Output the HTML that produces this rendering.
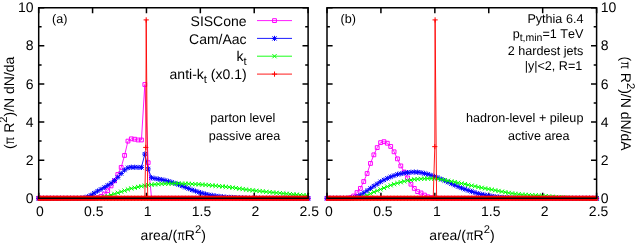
<!DOCTYPE html>
<html><head><meta charset="utf-8"><title>plot</title>
<style>html,body{margin:0;padding:0;background:#fff;}body{width:637px;height:243px;overflow:hidden;position:relative;font-family:"Liberation Sans",sans-serif;}</style>
</head><body>
<svg width="637" height="243" viewBox="0 0 637 243" style="display:block;position:absolute;left:0;top:0;will-change:transform;font-kerning:none" text-rendering="geometricPrecision" font-kerning="none" font-family="'Liberation Sans', sans-serif" fill="#000">
<rect width="637" height="243" fill="#fff"/>
<path d="M38.7 198.3h5.6M308.1 198.3h-5.6M38.7 179.24h2.9M308.1 179.24h-2.9M38.7 160.18h5.6M308.1 160.18h-5.6M38.7 141.12h2.9M308.1 141.12h-2.9M38.7 122.06h5.6M308.1 122.06h-5.6M38.7 103h2.9M308.1 103h-2.9M38.7 83.94h5.6M308.1 83.94h-5.6M38.7 64.88h2.9M308.1 64.88h-2.9M38.7 45.82h5.6M308.1 45.82h-5.6M38.7 26.76h2.9M308.1 26.76h-2.9M38.7 7.7h5.6M308.1 7.7h-5.6M38.7 198.3v-5.6M38.7 7.7v5.6M92.58 198.3v-5.6M92.58 7.7v5.6M146.46 198.3v-5.6M146.46 7.7v5.6M200.34 198.3v-5.6M200.34 7.7v5.6M254.22 198.3v-5.6M254.22 7.7v5.6M308.1 198.3v-5.6M308.1 7.7v5.6" fill="none" stroke="#000" stroke-width="1.5"/>
<path d="M327 198.3h5.6M596.6 198.3h-5.6M327 179.24h2.9M596.6 179.24h-2.9M327 160.18h5.6M596.6 160.18h-5.6M327 141.12h2.9M596.6 141.12h-2.9M327 122.06h5.6M596.6 122.06h-5.6M327 103h2.9M596.6 103h-2.9M327 83.94h5.6M596.6 83.94h-5.6M327 64.88h2.9M596.6 64.88h-2.9M327 45.82h5.6M596.6 45.82h-5.6M327 26.76h2.9M596.6 26.76h-2.9M327 7.7h5.6M596.6 7.7h-5.6M327 198.3v-5.6M327 7.7v5.6M380.92 198.3v-5.6M380.92 7.7v5.6M434.84 198.3v-5.6M434.84 7.7v5.6M488.76 198.3v-5.6M488.76 7.7v5.6M542.68 198.3v-5.6M542.68 7.7v5.6M596.6 198.3v-5.6M596.6 7.7v5.6" fill="none" stroke="#000" stroke-width="1.5"/>
<path d="M38.7 198.3 L40.19 198.3 L43.56 198.3 L46.94 198.3 L50.31 198.3 L53.69 198.3 L57.06 198.3 L60.44 198.3 L63.81 198.3 L67.19 198.3 L70.56 198.3 L73.94 198.3 L77.31 198.3 L80.69 198.3 L84.06 198.3 L87.44 198.3 L90.81 198.3 L94.19 198.3 L97.56 197.73 L100.94 196.39 L104.31 194.11 L107.69 190.68 L111.06 185.91 L114.44 180.76 L117.81 174.48 L121.19 167.42 L124.56 155.42 L127.94 141.12 L131.31 138.83 L134.69 139.21 L138.06 139.98 L141.44 139.98 L144.81 84.51 L148.19 162.66 L151.56 198.3 L154.94 198.3 L158.31 198.3 L161.69 198.3 L165.06 198.3 L168.44 198.3 L171.81 198.3 L175.19 198.3 L178.56 198.3 L181.94 198.3 L185.31 198.3 L188.69 198.3 L192.06 198.3 L195.44 198.3 L198.81 198.3 L202.19 198.3 L205.56 198.3 L208.94 198.3 L212.31 198.3 L215.69 198.3 L219.06 198.3 L222.44 198.3 L225.81 198.3 L229.19 198.3 L232.56 198.3 L235.94 198.3 L239.31 198.3 L242.69 198.3 L246.06 198.3 L249.44 198.3 L252.81 198.3 L256.19 198.3 L259.56 198.3 L262.94 198.3 L266.31 198.3 L269.69 198.3 L273.06 198.3 L276.44 198.3 L279.81 198.3 L283.19 198.3 L286.56 198.3 L289.94 198.3 L293.31 198.3 L296.69 198.3 L300.06 198.3 L303.44 198.3 L306.81 198.3 L308.1 198.3" fill="none" stroke="#ff00ff" stroke-width="0.9" stroke-linejoin="round"/><path d="M36.8 196.4h3.8v3.8h-3.8zM38.29 196.4h3.8v3.8h-3.8zM41.66 196.4h3.8v3.8h-3.8zM45.04 196.4h3.8v3.8h-3.8zM48.41 196.4h3.8v3.8h-3.8zM51.79 196.4h3.8v3.8h-3.8zM55.16 196.4h3.8v3.8h-3.8zM58.54 196.4h3.8v3.8h-3.8zM61.91 196.4h3.8v3.8h-3.8zM65.29 196.4h3.8v3.8h-3.8zM68.66 196.4h3.8v3.8h-3.8zM72.04 196.4h3.8v3.8h-3.8zM75.41 196.4h3.8v3.8h-3.8zM78.79 196.4h3.8v3.8h-3.8zM82.16 196.4h3.8v3.8h-3.8zM85.54 196.4h3.8v3.8h-3.8zM88.91 196.4h3.8v3.8h-3.8zM92.29 196.4h3.8v3.8h-3.8zM95.66 195.83h3.8v3.8h-3.8zM99.04 194.49h3.8v3.8h-3.8zM102.41 192.21h3.8v3.8h-3.8zM105.79 188.78h3.8v3.8h-3.8zM109.16 184.01h3.8v3.8h-3.8zM112.54 178.86h3.8v3.8h-3.8zM115.91 172.58h3.8v3.8h-3.8zM119.29 165.52h3.8v3.8h-3.8zM122.66 153.52h3.8v3.8h-3.8zM126.04 139.22h3.8v3.8h-3.8zM129.41 136.93h3.8v3.8h-3.8zM132.79 137.31h3.8v3.8h-3.8zM136.16 138.08h3.8v3.8h-3.8zM139.54 138.08h3.8v3.8h-3.8zM142.91 82.61h3.8v3.8h-3.8zM146.29 160.76h3.8v3.8h-3.8zM149.66 196.4h3.8v3.8h-3.8zM153.04 196.4h3.8v3.8h-3.8zM156.41 196.4h3.8v3.8h-3.8zM159.79 196.4h3.8v3.8h-3.8zM163.16 196.4h3.8v3.8h-3.8zM166.54 196.4h3.8v3.8h-3.8zM169.91 196.4h3.8v3.8h-3.8zM173.29 196.4h3.8v3.8h-3.8zM176.66 196.4h3.8v3.8h-3.8zM180.04 196.4h3.8v3.8h-3.8zM183.41 196.4h3.8v3.8h-3.8zM186.79 196.4h3.8v3.8h-3.8zM190.16 196.4h3.8v3.8h-3.8zM193.54 196.4h3.8v3.8h-3.8zM196.91 196.4h3.8v3.8h-3.8zM200.29 196.4h3.8v3.8h-3.8zM203.66 196.4h3.8v3.8h-3.8zM207.04 196.4h3.8v3.8h-3.8zM210.41 196.4h3.8v3.8h-3.8zM213.79 196.4h3.8v3.8h-3.8zM217.16 196.4h3.8v3.8h-3.8zM220.54 196.4h3.8v3.8h-3.8zM223.91 196.4h3.8v3.8h-3.8zM227.29 196.4h3.8v3.8h-3.8zM230.66 196.4h3.8v3.8h-3.8zM234.04 196.4h3.8v3.8h-3.8zM237.41 196.4h3.8v3.8h-3.8zM240.79 196.4h3.8v3.8h-3.8zM244.16 196.4h3.8v3.8h-3.8zM247.54 196.4h3.8v3.8h-3.8zM250.91 196.4h3.8v3.8h-3.8zM254.29 196.4h3.8v3.8h-3.8zM257.66 196.4h3.8v3.8h-3.8zM261.04 196.4h3.8v3.8h-3.8zM264.41 196.4h3.8v3.8h-3.8zM267.79 196.4h3.8v3.8h-3.8zM271.16 196.4h3.8v3.8h-3.8zM274.54 196.4h3.8v3.8h-3.8zM277.91 196.4h3.8v3.8h-3.8zM281.29 196.4h3.8v3.8h-3.8zM284.66 196.4h3.8v3.8h-3.8zM288.04 196.4h3.8v3.8h-3.8zM291.41 196.4h3.8v3.8h-3.8zM294.79 196.4h3.8v3.8h-3.8zM298.16 196.4h3.8v3.8h-3.8zM301.54 196.4h3.8v3.8h-3.8zM304.91 196.4h3.8v3.8h-3.8zM306.2 196.4h3.8v3.8h-3.8z" fill="none" stroke="#ff00ff" stroke-width="1.0"/>
<path d="M38.7 198.3 L40.19 198.3 L43.56 198.3 L46.94 198.3 L50.31 198.3 L53.69 198.3 L57.06 198.3 L60.44 198.3 L63.81 198.3 L67.19 198.3 L70.56 198.3 L73.94 198.3 L77.31 198.3 L80.69 198.3 L84.06 197.73 L87.44 196.78 L90.81 195.25 L94.19 193.15 L97.56 191.06 L100.94 189.34 L104.31 187.44 L107.69 185.34 L111.06 183.24 L114.44 180.57 L117.81 177.33 L121.19 173.52 L124.56 170.09 L127.94 167.8 L131.31 167.23 L134.69 167.23 L138.06 167.42 L141.44 167.42 L144.81 154.08 L148.19 168.95 L151.56 177.72 L154.94 178.48 L158.31 179.05 L161.69 179.62 L165.06 180.38 L168.44 181.34 L171.81 182.29 L175.19 183.43 L178.56 184.58 L181.94 185.91 L185.31 187.25 L188.69 188.58 L192.06 189.91 L195.44 191.06 L198.81 192.2 L202.19 193.15 L205.56 194.11 L208.94 194.87 L212.31 195.44 L215.69 196.01 L219.06 196.39 L222.44 196.78 L225.81 197.16 L229.19 197.35 L232.56 197.54 L235.94 197.73 L239.31 197.92 L242.69 197.92 L246.06 198.11 L249.44 198.3 L252.81 198.3 L256.19 198.3 L259.56 198.3 L262.94 198.3 L266.31 198.3 L269.69 198.3 L273.06 198.3 L276.44 198.3 L279.81 198.3 L283.19 198.3 L286.56 198.3 L289.94 198.3 L293.31 198.3 L296.69 198.3 L300.06 198.3 L303.44 198.3 L306.81 198.3 L308.1 198.3" fill="none" stroke="#0000ff" stroke-width="0.9" stroke-linejoin="round"/><path d="M36.1 198.3h5.2M38.7 195.7v5.2M36.6 196.2l4.2 4.2M36.6 200.4l4.2 -4.2M37.59 198.3h5.2M40.19 195.7v5.2M38.09 196.2l4.2 4.2M38.09 200.4l4.2 -4.2M40.96 198.3h5.2M43.56 195.7v5.2M41.46 196.2l4.2 4.2M41.46 200.4l4.2 -4.2M44.34 198.3h5.2M46.94 195.7v5.2M44.84 196.2l4.2 4.2M44.84 200.4l4.2 -4.2M47.71 198.3h5.2M50.31 195.7v5.2M48.21 196.2l4.2 4.2M48.21 200.4l4.2 -4.2M51.09 198.3h5.2M53.69 195.7v5.2M51.59 196.2l4.2 4.2M51.59 200.4l4.2 -4.2M54.46 198.3h5.2M57.06 195.7v5.2M54.96 196.2l4.2 4.2M54.96 200.4l4.2 -4.2M57.84 198.3h5.2M60.44 195.7v5.2M58.34 196.2l4.2 4.2M58.34 200.4l4.2 -4.2M61.21 198.3h5.2M63.81 195.7v5.2M61.71 196.2l4.2 4.2M61.71 200.4l4.2 -4.2M64.59 198.3h5.2M67.19 195.7v5.2M65.09 196.2l4.2 4.2M65.09 200.4l4.2 -4.2M67.96 198.3h5.2M70.56 195.7v5.2M68.46 196.2l4.2 4.2M68.46 200.4l4.2 -4.2M71.34 198.3h5.2M73.94 195.7v5.2M71.84 196.2l4.2 4.2M71.84 200.4l4.2 -4.2M74.71 198.3h5.2M77.31 195.7v5.2M75.21 196.2l4.2 4.2M75.21 200.4l4.2 -4.2M78.09 198.3h5.2M80.69 195.7v5.2M78.59 196.2l4.2 4.2M78.59 200.4l4.2 -4.2M81.46 197.73h5.2M84.06 195.13v5.2M81.96 195.63l4.2 4.2M81.96 199.83l4.2 -4.2M84.84 196.78h5.2M87.44 194.18v5.2M85.34 194.68l4.2 4.2M85.34 198.88l4.2 -4.2M88.21 195.25h5.2M90.81 192.65v5.2M88.71 193.15l4.2 4.2M88.71 197.35l4.2 -4.2M91.59 193.15h5.2M94.19 190.55v5.2M92.09 191.05l4.2 4.2M92.09 195.25l4.2 -4.2M94.96 191.06h5.2M97.56 188.46v5.2M95.46 188.96l4.2 4.2M95.46 193.16l4.2 -4.2M98.34 189.34h5.2M100.94 186.74v5.2M98.84 187.24l4.2 4.2M98.84 191.44l4.2 -4.2M101.71 187.44h5.2M104.31 184.84v5.2M102.21 185.34l4.2 4.2M102.21 189.54l4.2 -4.2M105.09 185.34h5.2M107.69 182.74v5.2M105.59 183.24l4.2 4.2M105.59 187.44l4.2 -4.2M108.46 183.24h5.2M111.06 180.64v5.2M108.96 181.14l4.2 4.2M108.96 185.34l4.2 -4.2M111.84 180.57h5.2M114.44 177.97v5.2M112.34 178.47l4.2 4.2M112.34 182.67l4.2 -4.2M115.21 177.33h5.2M117.81 174.73v5.2M115.71 175.23l4.2 4.2M115.71 179.43l4.2 -4.2M118.59 173.52h5.2M121.19 170.92v5.2M119.09 171.42l4.2 4.2M119.09 175.62l4.2 -4.2M121.96 170.09h5.2M124.56 167.49v5.2M122.46 167.99l4.2 4.2M122.46 172.19l4.2 -4.2M125.34 167.8h5.2M127.94 165.2v5.2M125.84 165.7l4.2 4.2M125.84 169.9l4.2 -4.2M128.71 167.23h5.2M131.31 164.63v5.2M129.21 165.13l4.2 4.2M129.21 169.33l4.2 -4.2M132.09 167.23h5.2M134.69 164.63v5.2M132.59 165.13l4.2 4.2M132.59 169.33l4.2 -4.2M135.46 167.42h5.2M138.06 164.82v5.2M135.96 165.32l4.2 4.2M135.96 169.52l4.2 -4.2M138.84 167.42h5.2M141.44 164.82v5.2M139.34 165.32l4.2 4.2M139.34 169.52l4.2 -4.2M142.21 154.08h5.2M144.81 151.48v5.2M142.71 151.98l4.2 4.2M142.71 156.18l4.2 -4.2M145.59 168.95h5.2M148.19 166.35v5.2M146.09 166.85l4.2 4.2M146.09 171.05l4.2 -4.2M148.96 177.72h5.2M151.56 175.12v5.2M149.46 175.62l4.2 4.2M149.46 179.82l4.2 -4.2M152.34 178.48h5.2M154.94 175.88v5.2M152.84 176.38l4.2 4.2M152.84 180.58l4.2 -4.2M155.71 179.05h5.2M158.31 176.45v5.2M156.21 176.95l4.2 4.2M156.21 181.15l4.2 -4.2M159.09 179.62h5.2M161.69 177.02v5.2M159.59 177.52l4.2 4.2M159.59 181.72l4.2 -4.2M162.46 180.38h5.2M165.06 177.78v5.2M162.96 178.28l4.2 4.2M162.96 182.48l4.2 -4.2M165.84 181.34h5.2M168.44 178.74v5.2M166.34 179.24l4.2 4.2M166.34 183.44l4.2 -4.2M169.21 182.29h5.2M171.81 179.69v5.2M169.71 180.19l4.2 4.2M169.71 184.39l4.2 -4.2M172.59 183.43h5.2M175.19 180.83v5.2M173.09 181.33l4.2 4.2M173.09 185.53l4.2 -4.2M175.96 184.58h5.2M178.56 181.98v5.2M176.46 182.48l4.2 4.2M176.46 186.68l4.2 -4.2M179.34 185.91h5.2M181.94 183.31v5.2M179.84 183.81l4.2 4.2M179.84 188.01l4.2 -4.2M182.71 187.25h5.2M185.31 184.65v5.2M183.21 185.15l4.2 4.2M183.21 189.35l4.2 -4.2M186.09 188.58h5.2M188.69 185.98v5.2M186.59 186.48l4.2 4.2M186.59 190.68l4.2 -4.2M189.46 189.91h5.2M192.06 187.31v5.2M189.96 187.81l4.2 4.2M189.96 192.01l4.2 -4.2M192.84 191.06h5.2M195.44 188.46v5.2M193.34 188.96l4.2 4.2M193.34 193.16l4.2 -4.2M196.21 192.2h5.2M198.81 189.6v5.2M196.71 190.1l4.2 4.2M196.71 194.3l4.2 -4.2M199.59 193.15h5.2M202.19 190.55v5.2M200.09 191.05l4.2 4.2M200.09 195.25l4.2 -4.2M202.96 194.11h5.2M205.56 191.51v5.2M203.46 192.01l4.2 4.2M203.46 196.21l4.2 -4.2M206.34 194.87h5.2M208.94 192.27v5.2M206.84 192.77l4.2 4.2M206.84 196.97l4.2 -4.2M209.71 195.44h5.2M212.31 192.84v5.2M210.21 193.34l4.2 4.2M210.21 197.54l4.2 -4.2M213.09 196.01h5.2M215.69 193.41v5.2M213.59 193.91l4.2 4.2M213.59 198.11l4.2 -4.2M216.46 196.39h5.2M219.06 193.79v5.2M216.96 194.29l4.2 4.2M216.96 198.49l4.2 -4.2M219.84 196.78h5.2M222.44 194.18v5.2M220.34 194.68l4.2 4.2M220.34 198.88l4.2 -4.2M223.21 197.16h5.2M225.81 194.56v5.2M223.71 195.06l4.2 4.2M223.71 199.26l4.2 -4.2M226.59 197.35h5.2M229.19 194.75v5.2M227.09 195.25l4.2 4.2M227.09 199.45l4.2 -4.2M229.96 197.54h5.2M232.56 194.94v5.2M230.46 195.44l4.2 4.2M230.46 199.64l4.2 -4.2M233.34 197.73h5.2M235.94 195.13v5.2M233.84 195.63l4.2 4.2M233.84 199.83l4.2 -4.2M236.71 197.92h5.2M239.31 195.32v5.2M237.21 195.82l4.2 4.2M237.21 200.02l4.2 -4.2M240.09 197.92h5.2M242.69 195.32v5.2M240.59 195.82l4.2 4.2M240.59 200.02l4.2 -4.2M243.46 198.11h5.2M246.06 195.51v5.2M243.96 196.01l4.2 4.2M243.96 200.21l4.2 -4.2M246.84 198.3h5.2M249.44 195.7v5.2M247.34 196.2l4.2 4.2M247.34 200.4l4.2 -4.2M250.21 198.3h5.2M252.81 195.7v5.2M250.71 196.2l4.2 4.2M250.71 200.4l4.2 -4.2M253.59 198.3h5.2M256.19 195.7v5.2M254.09 196.2l4.2 4.2M254.09 200.4l4.2 -4.2M256.96 198.3h5.2M259.56 195.7v5.2M257.46 196.2l4.2 4.2M257.46 200.4l4.2 -4.2M260.34 198.3h5.2M262.94 195.7v5.2M260.84 196.2l4.2 4.2M260.84 200.4l4.2 -4.2M263.71 198.3h5.2M266.31 195.7v5.2M264.21 196.2l4.2 4.2M264.21 200.4l4.2 -4.2M267.09 198.3h5.2M269.69 195.7v5.2M267.59 196.2l4.2 4.2M267.59 200.4l4.2 -4.2M270.46 198.3h5.2M273.06 195.7v5.2M270.96 196.2l4.2 4.2M270.96 200.4l4.2 -4.2M273.84 198.3h5.2M276.44 195.7v5.2M274.34 196.2l4.2 4.2M274.34 200.4l4.2 -4.2M277.21 198.3h5.2M279.81 195.7v5.2M277.71 196.2l4.2 4.2M277.71 200.4l4.2 -4.2M280.59 198.3h5.2M283.19 195.7v5.2M281.09 196.2l4.2 4.2M281.09 200.4l4.2 -4.2M283.96 198.3h5.2M286.56 195.7v5.2M284.46 196.2l4.2 4.2M284.46 200.4l4.2 -4.2M287.34 198.3h5.2M289.94 195.7v5.2M287.84 196.2l4.2 4.2M287.84 200.4l4.2 -4.2M290.71 198.3h5.2M293.31 195.7v5.2M291.21 196.2l4.2 4.2M291.21 200.4l4.2 -4.2M294.09 198.3h5.2M296.69 195.7v5.2M294.59 196.2l4.2 4.2M294.59 200.4l4.2 -4.2M297.46 198.3h5.2M300.06 195.7v5.2M297.96 196.2l4.2 4.2M297.96 200.4l4.2 -4.2M300.84 198.3h5.2M303.44 195.7v5.2M301.34 196.2l4.2 4.2M301.34 200.4l4.2 -4.2M304.21 198.3h5.2M306.81 195.7v5.2M304.71 196.2l4.2 4.2M304.71 200.4l4.2 -4.2M305.5 198.3h5.2M308.1 195.7v5.2M306 196.2l4.2 4.2M306 200.4l4.2 -4.2" fill="none" stroke="#0000ff" stroke-width="1.0"/>
<path d="M40.19 198.3 L43.56 198.3 L46.94 198.3 L50.31 198.3 L53.69 198.3 L57.06 198.3 L60.44 198.3 L63.81 198.3 L67.19 198.3 L70.56 198.3 L73.94 198.3 L77.31 198.3 L80.69 198.3 L84.06 198.3 L87.44 198.3 L90.81 198.3 L94.19 198.3 L97.56 198.01 L100.94 197.55 L104.31 196.91 L107.69 196.16 L111.06 195.04 L114.44 193.91 L117.81 192.81 L121.19 191.7 L124.56 190.58 L127.94 189.46 L131.31 188.47 L134.69 187.7 L138.06 186.93 L141.44 186.24 L144.81 185.66 L148.19 185.08 L151.56 184.64 L154.94 184.38 L158.31 184.11 L161.69 183.84 L165.06 183.72 L168.44 183.63 L171.81 183.53 L175.19 183.44 L178.56 183.54 L181.94 183.64 L185.31 183.74 L188.69 183.85 L192.06 184.01 L195.44 184.17 L198.81 184.33 L202.19 184.58 L205.56 184.88 L208.94 185.18 L212.31 185.48 L215.69 185.79 L219.06 186.13 L222.44 186.48 L225.81 186.82 L229.19 187.16 L232.56 187.61 L235.94 188.09 L239.31 188.58 L242.69 189.06 L246.06 189.54 L249.44 190.02 L252.81 190.4 L256.19 190.75 L259.56 191.11 L262.94 191.46 L266.31 191.81 L269.69 192.17 L273.06 192.49 L276.44 192.81 L279.81 193.14 L283.19 193.46 L286.56 193.78 L289.94 194.1 L293.31 194.39 L296.69 194.67 L300.06 194.96 L303.44 195.25 L306.81 195.53" fill="none" stroke="#00ff00" stroke-width="0.9" stroke-linejoin="round"/><path d="M38.09 196.2l4.2 4.2M38.09 200.4l4.2 -4.2M41.46 196.2l4.2 4.2M41.46 200.4l4.2 -4.2M44.84 196.2l4.2 4.2M44.84 200.4l4.2 -4.2M48.21 196.2l4.2 4.2M48.21 200.4l4.2 -4.2M51.59 196.2l4.2 4.2M51.59 200.4l4.2 -4.2M54.96 196.2l4.2 4.2M54.96 200.4l4.2 -4.2M58.34 196.2l4.2 4.2M58.34 200.4l4.2 -4.2M61.71 196.2l4.2 4.2M61.71 200.4l4.2 -4.2M65.09 196.2l4.2 4.2M65.09 200.4l4.2 -4.2M68.46 196.2l4.2 4.2M68.46 200.4l4.2 -4.2M71.84 196.2l4.2 4.2M71.84 200.4l4.2 -4.2M75.21 196.2l4.2 4.2M75.21 200.4l4.2 -4.2M78.59 196.2l4.2 4.2M78.59 200.4l4.2 -4.2M81.96 196.2l4.2 4.2M81.96 200.4l4.2 -4.2M85.34 196.2l4.2 4.2M85.34 200.4l4.2 -4.2M88.71 196.2l4.2 4.2M88.71 200.4l4.2 -4.2M92.09 196.2l4.2 4.2M92.09 200.4l4.2 -4.2M95.46 195.91l4.2 4.2M95.46 200.11l4.2 -4.2M98.84 195.45l4.2 4.2M98.84 199.65l4.2 -4.2M102.21 194.81l4.2 4.2M102.21 199.01l4.2 -4.2M105.59 194.06l4.2 4.2M105.59 198.26l4.2 -4.2M108.96 192.94l4.2 4.2M108.96 197.14l4.2 -4.2M112.34 191.81l4.2 4.2M112.34 196.01l4.2 -4.2M115.71 190.71l4.2 4.2M115.71 194.91l4.2 -4.2M119.09 189.6l4.2 4.2M119.09 193.8l4.2 -4.2M122.46 188.48l4.2 4.2M122.46 192.68l4.2 -4.2M125.84 187.36l4.2 4.2M125.84 191.56l4.2 -4.2M129.21 186.37l4.2 4.2M129.21 190.57l4.2 -4.2M132.59 185.6l4.2 4.2M132.59 189.8l4.2 -4.2M135.96 184.83l4.2 4.2M135.96 189.03l4.2 -4.2M139.34 184.14l4.2 4.2M139.34 188.34l4.2 -4.2M142.71 183.56l4.2 4.2M142.71 187.76l4.2 -4.2M146.09 182.98l4.2 4.2M146.09 187.18l4.2 -4.2M149.46 182.54l4.2 4.2M149.46 186.74l4.2 -4.2M152.84 182.28l4.2 4.2M152.84 186.48l4.2 -4.2M156.21 182.01l4.2 4.2M156.21 186.21l4.2 -4.2M159.59 181.74l4.2 4.2M159.59 185.94l4.2 -4.2M162.96 181.62l4.2 4.2M162.96 185.82l4.2 -4.2M166.34 181.53l4.2 4.2M166.34 185.73l4.2 -4.2M169.71 181.43l4.2 4.2M169.71 185.63l4.2 -4.2M173.09 181.34l4.2 4.2M173.09 185.54l4.2 -4.2M176.46 181.44l4.2 4.2M176.46 185.64l4.2 -4.2M179.84 181.54l4.2 4.2M179.84 185.74l4.2 -4.2M183.21 181.64l4.2 4.2M183.21 185.84l4.2 -4.2M186.59 181.75l4.2 4.2M186.59 185.95l4.2 -4.2M189.96 181.91l4.2 4.2M189.96 186.11l4.2 -4.2M193.34 182.07l4.2 4.2M193.34 186.27l4.2 -4.2M196.71 182.23l4.2 4.2M196.71 186.43l4.2 -4.2M200.09 182.48l4.2 4.2M200.09 186.68l4.2 -4.2M203.46 182.78l4.2 4.2M203.46 186.98l4.2 -4.2M206.84 183.08l4.2 4.2M206.84 187.28l4.2 -4.2M210.21 183.38l4.2 4.2M210.21 187.58l4.2 -4.2M213.59 183.69l4.2 4.2M213.59 187.89l4.2 -4.2M216.96 184.03l4.2 4.2M216.96 188.23l4.2 -4.2M220.34 184.38l4.2 4.2M220.34 188.58l4.2 -4.2M223.71 184.72l4.2 4.2M223.71 188.92l4.2 -4.2M227.09 185.06l4.2 4.2M227.09 189.26l4.2 -4.2M230.46 185.51l4.2 4.2M230.46 189.71l4.2 -4.2M233.84 185.99l4.2 4.2M233.84 190.19l4.2 -4.2M237.21 186.48l4.2 4.2M237.21 190.68l4.2 -4.2M240.59 186.96l4.2 4.2M240.59 191.16l4.2 -4.2M243.96 187.44l4.2 4.2M243.96 191.64l4.2 -4.2M247.34 187.92l4.2 4.2M247.34 192.12l4.2 -4.2M250.71 188.3l4.2 4.2M250.71 192.5l4.2 -4.2M254.09 188.65l4.2 4.2M254.09 192.85l4.2 -4.2M257.46 189.01l4.2 4.2M257.46 193.21l4.2 -4.2M260.84 189.36l4.2 4.2M260.84 193.56l4.2 -4.2M264.21 189.71l4.2 4.2M264.21 193.91l4.2 -4.2M267.59 190.07l4.2 4.2M267.59 194.27l4.2 -4.2M270.96 190.39l4.2 4.2M270.96 194.59l4.2 -4.2M274.34 190.71l4.2 4.2M274.34 194.91l4.2 -4.2M277.71 191.04l4.2 4.2M277.71 195.24l4.2 -4.2M281.09 191.36l4.2 4.2M281.09 195.56l4.2 -4.2M284.46 191.68l4.2 4.2M284.46 195.88l4.2 -4.2M287.84 192l4.2 4.2M287.84 196.2l4.2 -4.2M291.21 192.29l4.2 4.2M291.21 196.49l4.2 -4.2M294.59 192.57l4.2 4.2M294.59 196.77l4.2 -4.2M297.96 192.86l4.2 4.2M297.96 197.06l4.2 -4.2M301.34 193.15l4.2 4.2M301.34 197.35l4.2 -4.2M304.71 193.43l4.2 4.2M304.71 197.63l4.2 -4.2" fill="none" stroke="#00ff00" stroke-width="1.0"/>
<path d="M40.19 198.3 L43.56 198.3 L46.94 198.3 L50.31 198.3 L53.69 198.3 L57.06 198.3 L60.44 198.3 L63.81 198.3 L67.19 198.3 L70.56 198.3 L73.94 198.3 L77.31 198.3 L80.69 198.3 L84.06 198.3 L87.44 198.3 L90.81 198.3 L94.19 198.3 L97.56 198.3 L100.94 198.3 L104.31 198.3 L107.69 198.3 L111.06 198.3 L114.44 198.3 L117.81 198.3 L121.19 198.3 L124.56 198.3 L127.94 198.3 L131.31 198.3 L134.69 198.3 L138.06 198.3 L141.44 198.3 L144.8 198.3 L145.8 147.41 L146.2 19.9 L147.7 198.3 L151.56 198.3 L154.94 198.3 L158.31 198.3 L161.69 198.3 L165.06 198.3 L168.44 198.3 L171.81 198.3 L175.19 198.3 L178.56 198.3 L181.94 198.3 L185.31 198.3 L188.69 198.3 L192.06 198.3 L195.44 198.3 L198.81 198.3 L202.19 198.3 L205.56 198.3 L208.94 198.3 L212.31 198.3 L215.69 198.3 L219.06 198.3 L222.44 198.3 L225.81 198.3 L229.19 198.3 L232.56 198.3 L235.94 198.3 L239.31 198.3 L242.69 198.3 L246.06 198.3 L249.44 198.3 L252.81 198.3 L256.19 198.3 L259.56 198.3 L262.94 198.3 L266.31 198.3 L269.69 198.3 L273.06 198.3 L276.44 198.3 L279.81 198.3 L283.19 198.3 L286.56 198.3 L289.94 198.3 L293.31 198.3 L296.69 198.3 L300.06 198.3 L303.44 198.3 L306.81 198.3" fill="none" stroke="#ff0000" stroke-width="0.9" stroke-linejoin="round"/><path d="M37.59 198.3h5.2M40.19 195.7v5.2M40.96 198.3h5.2M43.56 195.7v5.2M44.34 198.3h5.2M46.94 195.7v5.2M47.71 198.3h5.2M50.31 195.7v5.2M51.09 198.3h5.2M53.69 195.7v5.2M54.46 198.3h5.2M57.06 195.7v5.2M57.84 198.3h5.2M60.44 195.7v5.2M61.21 198.3h5.2M63.81 195.7v5.2M64.59 198.3h5.2M67.19 195.7v5.2M67.96 198.3h5.2M70.56 195.7v5.2M71.34 198.3h5.2M73.94 195.7v5.2M74.71 198.3h5.2M77.31 195.7v5.2M78.09 198.3h5.2M80.69 195.7v5.2M81.46 198.3h5.2M84.06 195.7v5.2M84.84 198.3h5.2M87.44 195.7v5.2M88.21 198.3h5.2M90.81 195.7v5.2M91.59 198.3h5.2M94.19 195.7v5.2M94.96 198.3h5.2M97.56 195.7v5.2M98.34 198.3h5.2M100.94 195.7v5.2M101.71 198.3h5.2M104.31 195.7v5.2M105.09 198.3h5.2M107.69 195.7v5.2M108.46 198.3h5.2M111.06 195.7v5.2M111.84 198.3h5.2M114.44 195.7v5.2M115.21 198.3h5.2M117.81 195.7v5.2M118.59 198.3h5.2M121.19 195.7v5.2M121.96 198.3h5.2M124.56 195.7v5.2M125.34 198.3h5.2M127.94 195.7v5.2M128.71 198.3h5.2M131.31 195.7v5.2M132.09 198.3h5.2M134.69 195.7v5.2M135.46 198.3h5.2M138.06 195.7v5.2M138.84 198.3h5.2M141.44 195.7v5.2M142.2 198.3h5.2M144.8 195.7v5.2M143.2 147.41h5.2M145.8 144.81v5.2M143.6 19.9h5.2M146.2 17.3v5.2M145.1 198.3h5.2M147.7 195.7v5.2M148.96 198.3h5.2M151.56 195.7v5.2M152.34 198.3h5.2M154.94 195.7v5.2M155.71 198.3h5.2M158.31 195.7v5.2M159.09 198.3h5.2M161.69 195.7v5.2M162.46 198.3h5.2M165.06 195.7v5.2M165.84 198.3h5.2M168.44 195.7v5.2M169.21 198.3h5.2M171.81 195.7v5.2M172.59 198.3h5.2M175.19 195.7v5.2M175.96 198.3h5.2M178.56 195.7v5.2M179.34 198.3h5.2M181.94 195.7v5.2M182.71 198.3h5.2M185.31 195.7v5.2M186.09 198.3h5.2M188.69 195.7v5.2M189.46 198.3h5.2M192.06 195.7v5.2M192.84 198.3h5.2M195.44 195.7v5.2M196.21 198.3h5.2M198.81 195.7v5.2M199.59 198.3h5.2M202.19 195.7v5.2M202.96 198.3h5.2M205.56 195.7v5.2M206.34 198.3h5.2M208.94 195.7v5.2M209.71 198.3h5.2M212.31 195.7v5.2M213.09 198.3h5.2M215.69 195.7v5.2M216.46 198.3h5.2M219.06 195.7v5.2M219.84 198.3h5.2M222.44 195.7v5.2M223.21 198.3h5.2M225.81 195.7v5.2M226.59 198.3h5.2M229.19 195.7v5.2M229.96 198.3h5.2M232.56 195.7v5.2M233.34 198.3h5.2M235.94 195.7v5.2M236.71 198.3h5.2M239.31 195.7v5.2M240.09 198.3h5.2M242.69 195.7v5.2M243.46 198.3h5.2M246.06 195.7v5.2M246.84 198.3h5.2M249.44 195.7v5.2M250.21 198.3h5.2M252.81 195.7v5.2M253.59 198.3h5.2M256.19 195.7v5.2M256.96 198.3h5.2M259.56 195.7v5.2M260.34 198.3h5.2M262.94 195.7v5.2M263.71 198.3h5.2M266.31 195.7v5.2M267.09 198.3h5.2M269.69 195.7v5.2M270.46 198.3h5.2M273.06 195.7v5.2M273.84 198.3h5.2M276.44 195.7v5.2M277.21 198.3h5.2M279.81 195.7v5.2M280.59 198.3h5.2M283.19 195.7v5.2M283.96 198.3h5.2M286.56 195.7v5.2M287.34 198.3h5.2M289.94 195.7v5.2M290.71 198.3h5.2M293.31 195.7v5.2M294.09 198.3h5.2M296.69 195.7v5.2M297.46 198.3h5.2M300.06 195.7v5.2M300.84 198.3h5.2M303.44 195.7v5.2M304.21 198.3h5.2M306.81 195.7v5.2" fill="none" stroke="#ff0000" stroke-width="1.0"/>
<path d="M327 198.3 L330.04 198.3 L333.41 198.3 L336.78 198.3 L340.15 198.3 L343.52 198.3 L346.89 198.3 L350.26 197.73 L353.63 196.01 L357 192.58 L360.37 188.39 L363.74 181.53 L367.11 173.52 L370.48 163.42 L373.85 154.84 L377.22 147.6 L380.59 142.64 L383.96 141.69 L387.33 143.22 L390.7 146.46 L394.07 151.79 L397.44 158.85 L400.81 165.9 L404.18 172 L407.55 177.91 L410.92 184.2 L414.29 188.39 L417.66 191.63 L421.03 192.96 L424.4 195.06 L427.77 196.78 L431.14 197.73 L434.51 198.3 L437.88 198.3 L441.25 198.3 L444.62 198.3 L447.99 198.3 L451.36 198.3 L454.73 198.3 L458.1 198.3 L461.47 198.3 L464.84 198.3 L468.21 198.3 L471.58 198.3 L474.95 198.3 L478.32 198.3 L481.69 198.3 L485.06 198.3 L488.43 198.3 L491.8 198.3 L495.17 198.3 L498.54 198.3 L501.91 198.3 L505.28 198.3 L508.65 198.3 L512.02 198.3 L515.39 198.3 L518.76 198.3 L522.13 198.3 L525.5 198.3 L528.87 198.3 L532.24 198.3 L535.61 198.3 L538.98 198.3 L542.35 198.3 L545.72 198.3 L549.09 198.3 L552.46 198.3 L555.83 198.3 L559.2 198.3 L562.57 198.3 L565.94 198.3 L569.31 198.3 L572.68 198.3 L576.05 198.3 L579.42 198.3 L582.79 198.3 L586.16 198.3 L589.53 198.3 L592.9 198.3 L596.27 198.3 L596.6 198.3" fill="none" stroke="#ff00ff" stroke-width="0.9" stroke-linejoin="round"/><path d="M325.1 196.4h3.8v3.8h-3.8zM328.14 196.4h3.8v3.8h-3.8zM331.51 196.4h3.8v3.8h-3.8zM334.88 196.4h3.8v3.8h-3.8zM338.25 196.4h3.8v3.8h-3.8zM341.62 196.4h3.8v3.8h-3.8zM344.99 196.4h3.8v3.8h-3.8zM348.36 195.83h3.8v3.8h-3.8zM351.73 194.11h3.8v3.8h-3.8zM355.1 190.68h3.8v3.8h-3.8zM358.47 186.49h3.8v3.8h-3.8zM361.84 179.63h3.8v3.8h-3.8zM365.21 171.62h3.8v3.8h-3.8zM368.58 161.52h3.8v3.8h-3.8zM371.95 152.94h3.8v3.8h-3.8zM375.32 145.7h3.8v3.8h-3.8zM378.69 140.74h3.8v3.8h-3.8zM382.06 139.79h3.8v3.8h-3.8zM385.43 141.32h3.8v3.8h-3.8zM388.8 144.56h3.8v3.8h-3.8zM392.17 149.89h3.8v3.8h-3.8zM395.54 156.95h3.8v3.8h-3.8zM398.91 164h3.8v3.8h-3.8zM402.28 170.1h3.8v3.8h-3.8zM405.65 176.01h3.8v3.8h-3.8zM409.02 182.3h3.8v3.8h-3.8zM412.39 186.49h3.8v3.8h-3.8zM415.76 189.73h3.8v3.8h-3.8zM419.13 191.06h3.8v3.8h-3.8zM422.5 193.16h3.8v3.8h-3.8zM425.87 194.88h3.8v3.8h-3.8zM429.24 195.83h3.8v3.8h-3.8zM432.61 196.4h3.8v3.8h-3.8zM435.98 196.4h3.8v3.8h-3.8zM439.35 196.4h3.8v3.8h-3.8zM442.72 196.4h3.8v3.8h-3.8zM446.09 196.4h3.8v3.8h-3.8zM449.46 196.4h3.8v3.8h-3.8zM452.83 196.4h3.8v3.8h-3.8zM456.2 196.4h3.8v3.8h-3.8zM459.57 196.4h3.8v3.8h-3.8zM462.94 196.4h3.8v3.8h-3.8zM466.31 196.4h3.8v3.8h-3.8zM469.68 196.4h3.8v3.8h-3.8zM473.05 196.4h3.8v3.8h-3.8zM476.42 196.4h3.8v3.8h-3.8zM479.79 196.4h3.8v3.8h-3.8zM483.16 196.4h3.8v3.8h-3.8zM486.53 196.4h3.8v3.8h-3.8zM489.9 196.4h3.8v3.8h-3.8zM493.27 196.4h3.8v3.8h-3.8zM496.64 196.4h3.8v3.8h-3.8zM500.01 196.4h3.8v3.8h-3.8zM503.38 196.4h3.8v3.8h-3.8zM506.75 196.4h3.8v3.8h-3.8zM510.12 196.4h3.8v3.8h-3.8zM513.49 196.4h3.8v3.8h-3.8zM516.86 196.4h3.8v3.8h-3.8zM520.23 196.4h3.8v3.8h-3.8zM523.6 196.4h3.8v3.8h-3.8zM526.97 196.4h3.8v3.8h-3.8zM530.34 196.4h3.8v3.8h-3.8zM533.71 196.4h3.8v3.8h-3.8zM537.08 196.4h3.8v3.8h-3.8zM540.45 196.4h3.8v3.8h-3.8zM543.82 196.4h3.8v3.8h-3.8zM547.19 196.4h3.8v3.8h-3.8zM550.56 196.4h3.8v3.8h-3.8zM553.93 196.4h3.8v3.8h-3.8zM557.3 196.4h3.8v3.8h-3.8zM560.67 196.4h3.8v3.8h-3.8zM564.04 196.4h3.8v3.8h-3.8zM567.41 196.4h3.8v3.8h-3.8zM570.78 196.4h3.8v3.8h-3.8zM574.15 196.4h3.8v3.8h-3.8zM577.52 196.4h3.8v3.8h-3.8zM580.89 196.4h3.8v3.8h-3.8zM584.26 196.4h3.8v3.8h-3.8zM587.63 196.4h3.8v3.8h-3.8zM591 196.4h3.8v3.8h-3.8zM594.37 196.4h3.8v3.8h-3.8zM594.7 196.4h3.8v3.8h-3.8z" fill="none" stroke="#ff00ff" stroke-width="1.0"/>
<path d="M327 198.3 L330.04 198.3 L333.41 198.3 L336.78 198.3 L340.15 198.3 L343.52 198.3 L346.89 198.3 L350.26 198.27 L353.63 197.73 L357 196.7 L360.37 194.98 L363.74 192.96 L367.11 190.71 L370.48 188.36 L373.85 186.06 L377.22 183.9 L380.59 181.73 L383.96 179.99 L387.33 178.34 L390.7 176.85 L394.07 175.6 L397.44 174.34 L400.81 173.69 L404.18 173.06 L407.55 172.6 L410.92 172.28 L414.29 172.02 L417.66 172.23 L421.03 172.62 L424.4 173.43 L427.77 174.23 L431.14 175.35 L434.51 176.49 L437.88 177.71 L441.25 179.16 L444.62 180.6 L447.99 182.13 L451.36 183.65 L454.73 185.13 L458.1 186.6 L461.47 187.97 L464.84 189.19 L468.21 190.41 L471.58 191.54 L474.95 192.57 L478.32 193.59 L481.69 194.43 L485.06 195.07 L488.43 195.71 L491.8 196.25 L495.17 196.7 L498.54 197.15 L501.91 197.46 L505.28 197.65 L508.65 197.84 L512.02 198 L515.39 198.12 L518.76 198.25 L522.13 198.3 L525.5 198.3 L528.87 198.3 L532.24 198.3 L535.61 198.3 L538.98 198.3 L542.35 198.3 L545.72 198.3 L549.09 198.3 L552.46 198.3 L555.83 198.3 L559.2 198.3 L562.57 198.3 L565.94 198.3 L569.31 198.3 L572.68 198.3 L576.05 198.3 L579.42 198.3 L582.79 198.3 L586.16 198.3 L589.53 198.3 L592.9 198.3 L596.27 198.3 L596.6 198.3" fill="none" stroke="#0000ff" stroke-width="0.9" stroke-linejoin="round"/><path d="M324.4 198.3h5.2M327 195.7v5.2M324.9 196.2l4.2 4.2M324.9 200.4l4.2 -4.2M327.44 198.3h5.2M330.04 195.7v5.2M327.94 196.2l4.2 4.2M327.94 200.4l4.2 -4.2M330.81 198.3h5.2M333.41 195.7v5.2M331.31 196.2l4.2 4.2M331.31 200.4l4.2 -4.2M334.18 198.3h5.2M336.78 195.7v5.2M334.68 196.2l4.2 4.2M334.68 200.4l4.2 -4.2M337.55 198.3h5.2M340.15 195.7v5.2M338.05 196.2l4.2 4.2M338.05 200.4l4.2 -4.2M340.92 198.3h5.2M343.52 195.7v5.2M341.42 196.2l4.2 4.2M341.42 200.4l4.2 -4.2M344.29 198.3h5.2M346.89 195.7v5.2M344.79 196.2l4.2 4.2M344.79 200.4l4.2 -4.2M347.66 198.27h5.2M350.26 195.67v5.2M348.16 196.17l4.2 4.2M348.16 200.37l4.2 -4.2M351.03 197.73h5.2M353.63 195.13v5.2M351.53 195.63l4.2 4.2M351.53 199.83l4.2 -4.2M354.4 196.7h5.2M357 194.1v5.2M354.9 194.6l4.2 4.2M354.9 198.8l4.2 -4.2M357.77 194.98h5.2M360.37 192.38v5.2M358.27 192.88l4.2 4.2M358.27 197.08l4.2 -4.2M361.14 192.96h5.2M363.74 190.36v5.2M361.64 190.86l4.2 4.2M361.64 195.06l4.2 -4.2M364.51 190.71h5.2M367.11 188.11v5.2M365.01 188.61l4.2 4.2M365.01 192.81l4.2 -4.2M367.88 188.36h5.2M370.48 185.76v5.2M368.38 186.26l4.2 4.2M368.38 190.46l4.2 -4.2M371.25 186.06h5.2M373.85 183.46v5.2M371.75 183.96l4.2 4.2M371.75 188.16l4.2 -4.2M374.62 183.9h5.2M377.22 181.3v5.2M375.12 181.8l4.2 4.2M375.12 186l4.2 -4.2M377.99 181.73h5.2M380.59 179.13v5.2M378.49 179.63l4.2 4.2M378.49 183.83l4.2 -4.2M381.36 179.99h5.2M383.96 177.39v5.2M381.86 177.89l4.2 4.2M381.86 182.09l4.2 -4.2M384.73 178.34h5.2M387.33 175.74v5.2M385.23 176.24l4.2 4.2M385.23 180.44l4.2 -4.2M388.1 176.85h5.2M390.7 174.25v5.2M388.6 174.75l4.2 4.2M388.6 178.95l4.2 -4.2M391.47 175.6h5.2M394.07 173v5.2M391.97 173.5l4.2 4.2M391.97 177.7l4.2 -4.2M394.84 174.34h5.2M397.44 171.74v5.2M395.34 172.24l4.2 4.2M395.34 176.44l4.2 -4.2M398.21 173.69h5.2M400.81 171.09v5.2M398.71 171.59l4.2 4.2M398.71 175.79l4.2 -4.2M401.58 173.06h5.2M404.18 170.46v5.2M402.08 170.96l4.2 4.2M402.08 175.16l4.2 -4.2M404.95 172.6h5.2M407.55 170v5.2M405.45 170.5l4.2 4.2M405.45 174.7l4.2 -4.2M408.32 172.28h5.2M410.92 169.68v5.2M408.82 170.18l4.2 4.2M408.82 174.38l4.2 -4.2M411.69 172.02h5.2M414.29 169.42v5.2M412.19 169.92l4.2 4.2M412.19 174.12l4.2 -4.2M415.06 172.23h5.2M417.66 169.63v5.2M415.56 170.13l4.2 4.2M415.56 174.33l4.2 -4.2M418.43 172.62h5.2M421.03 170.02v5.2M418.93 170.52l4.2 4.2M418.93 174.72l4.2 -4.2M421.8 173.43h5.2M424.4 170.83v5.2M422.3 171.33l4.2 4.2M422.3 175.53l4.2 -4.2M425.17 174.23h5.2M427.77 171.63v5.2M425.67 172.13l4.2 4.2M425.67 176.33l4.2 -4.2M428.54 175.35h5.2M431.14 172.75v5.2M429.04 173.25l4.2 4.2M429.04 177.45l4.2 -4.2M431.91 176.49h5.2M434.51 173.89v5.2M432.41 174.39l4.2 4.2M432.41 178.59l4.2 -4.2M435.28 177.71h5.2M437.88 175.11v5.2M435.78 175.61l4.2 4.2M435.78 179.81l4.2 -4.2M438.65 179.16h5.2M441.25 176.56v5.2M439.15 177.06l4.2 4.2M439.15 181.26l4.2 -4.2M442.02 180.6h5.2M444.62 178v5.2M442.52 178.5l4.2 4.2M442.52 182.7l4.2 -4.2M445.39 182.13h5.2M447.99 179.53v5.2M445.89 180.03l4.2 4.2M445.89 184.23l4.2 -4.2M448.76 183.65h5.2M451.36 181.05v5.2M449.26 181.55l4.2 4.2M449.26 185.75l4.2 -4.2M452.13 185.13h5.2M454.73 182.53v5.2M452.63 183.03l4.2 4.2M452.63 187.23l4.2 -4.2M455.5 186.6h5.2M458.1 184v5.2M456 184.5l4.2 4.2M456 188.7l4.2 -4.2M458.87 187.97h5.2M461.47 185.37v5.2M459.37 185.87l4.2 4.2M459.37 190.07l4.2 -4.2M462.24 189.19h5.2M464.84 186.59v5.2M462.74 187.09l4.2 4.2M462.74 191.29l4.2 -4.2M465.61 190.41h5.2M468.21 187.81v5.2M466.11 188.31l4.2 4.2M466.11 192.51l4.2 -4.2M468.98 191.54h5.2M471.58 188.94v5.2M469.48 189.44l4.2 4.2M469.48 193.64l4.2 -4.2M472.35 192.57h5.2M474.95 189.97v5.2M472.85 190.47l4.2 4.2M472.85 194.67l4.2 -4.2M475.72 193.59h5.2M478.32 190.99v5.2M476.22 191.49l4.2 4.2M476.22 195.69l4.2 -4.2M479.09 194.43h5.2M481.69 191.83v5.2M479.59 192.33l4.2 4.2M479.59 196.53l4.2 -4.2M482.46 195.07h5.2M485.06 192.47v5.2M482.96 192.97l4.2 4.2M482.96 197.17l4.2 -4.2M485.83 195.71h5.2M488.43 193.11v5.2M486.33 193.61l4.2 4.2M486.33 197.81l4.2 -4.2M489.2 196.25h5.2M491.8 193.65v5.2M489.7 194.15l4.2 4.2M489.7 198.35l4.2 -4.2M492.57 196.7h5.2M495.17 194.1v5.2M493.07 194.6l4.2 4.2M493.07 198.8l4.2 -4.2M495.94 197.15h5.2M498.54 194.55v5.2M496.44 195.05l4.2 4.2M496.44 199.25l4.2 -4.2M499.31 197.46h5.2M501.91 194.86v5.2M499.81 195.36l4.2 4.2M499.81 199.56l4.2 -4.2M502.68 197.65h5.2M505.28 195.05v5.2M503.18 195.55l4.2 4.2M503.18 199.75l4.2 -4.2M506.05 197.84h5.2M508.65 195.24v5.2M506.55 195.74l4.2 4.2M506.55 199.94l4.2 -4.2M509.42 198h5.2M512.02 195.4v5.2M509.92 195.9l4.2 4.2M509.92 200.1l4.2 -4.2M512.79 198.12h5.2M515.39 195.52v5.2M513.29 196.02l4.2 4.2M513.29 200.22l4.2 -4.2M516.16 198.25h5.2M518.76 195.65v5.2M516.66 196.15l4.2 4.2M516.66 200.35l4.2 -4.2M519.53 198.3h5.2M522.13 195.7v5.2M520.03 196.2l4.2 4.2M520.03 200.4l4.2 -4.2M522.9 198.3h5.2M525.5 195.7v5.2M523.4 196.2l4.2 4.2M523.4 200.4l4.2 -4.2M526.27 198.3h5.2M528.87 195.7v5.2M526.77 196.2l4.2 4.2M526.77 200.4l4.2 -4.2M529.64 198.3h5.2M532.24 195.7v5.2M530.14 196.2l4.2 4.2M530.14 200.4l4.2 -4.2M533.01 198.3h5.2M535.61 195.7v5.2M533.51 196.2l4.2 4.2M533.51 200.4l4.2 -4.2M536.38 198.3h5.2M538.98 195.7v5.2M536.88 196.2l4.2 4.2M536.88 200.4l4.2 -4.2M539.75 198.3h5.2M542.35 195.7v5.2M540.25 196.2l4.2 4.2M540.25 200.4l4.2 -4.2M543.12 198.3h5.2M545.72 195.7v5.2M543.62 196.2l4.2 4.2M543.62 200.4l4.2 -4.2M546.49 198.3h5.2M549.09 195.7v5.2M546.99 196.2l4.2 4.2M546.99 200.4l4.2 -4.2M549.86 198.3h5.2M552.46 195.7v5.2M550.36 196.2l4.2 4.2M550.36 200.4l4.2 -4.2M553.23 198.3h5.2M555.83 195.7v5.2M553.73 196.2l4.2 4.2M553.73 200.4l4.2 -4.2M556.6 198.3h5.2M559.2 195.7v5.2M557.1 196.2l4.2 4.2M557.1 200.4l4.2 -4.2M559.97 198.3h5.2M562.57 195.7v5.2M560.47 196.2l4.2 4.2M560.47 200.4l4.2 -4.2M563.34 198.3h5.2M565.94 195.7v5.2M563.84 196.2l4.2 4.2M563.84 200.4l4.2 -4.2M566.71 198.3h5.2M569.31 195.7v5.2M567.21 196.2l4.2 4.2M567.21 200.4l4.2 -4.2M570.08 198.3h5.2M572.68 195.7v5.2M570.58 196.2l4.2 4.2M570.58 200.4l4.2 -4.2M573.45 198.3h5.2M576.05 195.7v5.2M573.95 196.2l4.2 4.2M573.95 200.4l4.2 -4.2M576.82 198.3h5.2M579.42 195.7v5.2M577.32 196.2l4.2 4.2M577.32 200.4l4.2 -4.2M580.19 198.3h5.2M582.79 195.7v5.2M580.69 196.2l4.2 4.2M580.69 200.4l4.2 -4.2M583.56 198.3h5.2M586.16 195.7v5.2M584.06 196.2l4.2 4.2M584.06 200.4l4.2 -4.2M586.93 198.3h5.2M589.53 195.7v5.2M587.43 196.2l4.2 4.2M587.43 200.4l4.2 -4.2M590.3 198.3h5.2M592.9 195.7v5.2M590.8 196.2l4.2 4.2M590.8 200.4l4.2 -4.2M593.67 198.3h5.2M596.27 195.7v5.2M594.17 196.2l4.2 4.2M594.17 200.4l4.2 -4.2M594 198.3h5.2M596.6 195.7v5.2M594.5 196.2l4.2 4.2M594.5 200.4l4.2 -4.2" fill="none" stroke="#0000ff" stroke-width="1.0"/>
<path d="M330.04 198.3 L333.41 198.3 L336.78 198.3 L340.15 198.3 L343.52 198.3 L346.89 198.3 L350.26 198.3 L353.63 198.3 L357 198.07 L360.37 197.62 L363.74 196.66 L367.11 195.43 L370.48 193.66 L373.85 192.02 L377.22 190.7 L380.59 189.39 L383.96 188 L387.33 186.59 L390.7 185.3 L394.07 184.2 L397.44 183.1 L400.81 182.23 L404.18 181.37 L407.55 180.63 L410.92 180.01 L414.29 179.41 L417.66 179.09 L421.03 178.81 L424.4 178.65 L427.77 178.49 L431.14 178.54 L434.51 178.62 L437.88 178.84 L441.25 179.48 L444.62 180.12 L447.99 180.76 L451.36 181.42 L454.73 182.11 L458.1 182.79 L461.47 183.48 L464.84 184.16 L468.21 184.89 L471.58 185.62 L474.95 186.34 L478.32 187.07 L481.69 187.76 L485.06 188.4 L488.43 189.04 L491.8 189.68 L495.17 190.33 L498.54 190.97 L501.91 191.61 L505.28 192.25 L508.65 192.9 L512.02 193.42 L515.39 193.87 L518.76 194.32 L522.13 194.61 L525.5 194.8 L528.87 195 L532.24 195.19 L535.61 195.38 L538.98 195.57 L542.35 195.84 L545.72 196.14 L549.09 196.44 L552.46 196.74 L555.83 197.02 L559.2 197.23 L562.57 197.45 L565.94 197.66 L569.31 197.87 L572.68 198.02 L576.05 198.15 L579.42 198.28 L582.79 198.3 L586.16 198.3 L589.53 198.3 L592.9 198.3 L596.27 198.3" fill="none" stroke="#00ff00" stroke-width="0.9" stroke-linejoin="round"/><path d="M327.94 196.2l4.2 4.2M327.94 200.4l4.2 -4.2M331.31 196.2l4.2 4.2M331.31 200.4l4.2 -4.2M334.68 196.2l4.2 4.2M334.68 200.4l4.2 -4.2M338.05 196.2l4.2 4.2M338.05 200.4l4.2 -4.2M341.42 196.2l4.2 4.2M341.42 200.4l4.2 -4.2M344.79 196.2l4.2 4.2M344.79 200.4l4.2 -4.2M348.16 196.2l4.2 4.2M348.16 200.4l4.2 -4.2M351.53 196.2l4.2 4.2M351.53 200.4l4.2 -4.2M354.9 195.97l4.2 4.2M354.9 200.17l4.2 -4.2M358.27 195.52l4.2 4.2M358.27 199.72l4.2 -4.2M361.64 194.56l4.2 4.2M361.64 198.76l4.2 -4.2M365.01 193.33l4.2 4.2M365.01 197.53l4.2 -4.2M368.38 191.56l4.2 4.2M368.38 195.76l4.2 -4.2M371.75 189.92l4.2 4.2M371.75 194.12l4.2 -4.2M375.12 188.6l4.2 4.2M375.12 192.8l4.2 -4.2M378.49 187.29l4.2 4.2M378.49 191.49l4.2 -4.2M381.86 185.9l4.2 4.2M381.86 190.1l4.2 -4.2M385.23 184.49l4.2 4.2M385.23 188.69l4.2 -4.2M388.6 183.2l4.2 4.2M388.6 187.4l4.2 -4.2M391.97 182.1l4.2 4.2M391.97 186.3l4.2 -4.2M395.34 181l4.2 4.2M395.34 185.2l4.2 -4.2M398.71 180.13l4.2 4.2M398.71 184.33l4.2 -4.2M402.08 179.27l4.2 4.2M402.08 183.47l4.2 -4.2M405.45 178.53l4.2 4.2M405.45 182.73l4.2 -4.2M408.82 177.91l4.2 4.2M408.82 182.11l4.2 -4.2M412.19 177.31l4.2 4.2M412.19 181.51l4.2 -4.2M415.56 176.99l4.2 4.2M415.56 181.19l4.2 -4.2M418.93 176.71l4.2 4.2M418.93 180.91l4.2 -4.2M422.3 176.55l4.2 4.2M422.3 180.75l4.2 -4.2M425.67 176.39l4.2 4.2M425.67 180.59l4.2 -4.2M429.04 176.44l4.2 4.2M429.04 180.64l4.2 -4.2M432.41 176.52l4.2 4.2M432.41 180.72l4.2 -4.2M435.78 176.74l4.2 4.2M435.78 180.94l4.2 -4.2M439.15 177.38l4.2 4.2M439.15 181.58l4.2 -4.2M442.52 178.02l4.2 4.2M442.52 182.22l4.2 -4.2M445.89 178.66l4.2 4.2M445.89 182.86l4.2 -4.2M449.26 179.32l4.2 4.2M449.26 183.52l4.2 -4.2M452.63 180.01l4.2 4.2M452.63 184.21l4.2 -4.2M456 180.69l4.2 4.2M456 184.89l4.2 -4.2M459.37 181.38l4.2 4.2M459.37 185.58l4.2 -4.2M462.74 182.06l4.2 4.2M462.74 186.26l4.2 -4.2M466.11 182.79l4.2 4.2M466.11 186.99l4.2 -4.2M469.48 183.52l4.2 4.2M469.48 187.72l4.2 -4.2M472.85 184.24l4.2 4.2M472.85 188.44l4.2 -4.2M476.22 184.97l4.2 4.2M476.22 189.17l4.2 -4.2M479.59 185.66l4.2 4.2M479.59 189.86l4.2 -4.2M482.96 186.3l4.2 4.2M482.96 190.5l4.2 -4.2M486.33 186.94l4.2 4.2M486.33 191.14l4.2 -4.2M489.7 187.58l4.2 4.2M489.7 191.78l4.2 -4.2M493.07 188.23l4.2 4.2M493.07 192.43l4.2 -4.2M496.44 188.87l4.2 4.2M496.44 193.07l4.2 -4.2M499.81 189.51l4.2 4.2M499.81 193.71l4.2 -4.2M503.18 190.15l4.2 4.2M503.18 194.35l4.2 -4.2M506.55 190.8l4.2 4.2M506.55 195l4.2 -4.2M509.92 191.32l4.2 4.2M509.92 195.52l4.2 -4.2M513.29 191.77l4.2 4.2M513.29 195.97l4.2 -4.2M516.66 192.22l4.2 4.2M516.66 196.42l4.2 -4.2M520.03 192.51l4.2 4.2M520.03 196.71l4.2 -4.2M523.4 192.7l4.2 4.2M523.4 196.9l4.2 -4.2M526.77 192.9l4.2 4.2M526.77 197.1l4.2 -4.2M530.14 193.09l4.2 4.2M530.14 197.29l4.2 -4.2M533.51 193.28l4.2 4.2M533.51 197.48l4.2 -4.2M536.88 193.47l4.2 4.2M536.88 197.67l4.2 -4.2M540.25 193.74l4.2 4.2M540.25 197.94l4.2 -4.2M543.62 194.04l4.2 4.2M543.62 198.24l4.2 -4.2M546.99 194.34l4.2 4.2M546.99 198.54l4.2 -4.2M550.36 194.64l4.2 4.2M550.36 198.84l4.2 -4.2M553.73 194.92l4.2 4.2M553.73 199.12l4.2 -4.2M557.1 195.13l4.2 4.2M557.1 199.33l4.2 -4.2M560.47 195.35l4.2 4.2M560.47 199.55l4.2 -4.2M563.84 195.56l4.2 4.2M563.84 199.76l4.2 -4.2M567.21 195.77l4.2 4.2M567.21 199.97l4.2 -4.2M570.58 195.92l4.2 4.2M570.58 200.12l4.2 -4.2M573.95 196.05l4.2 4.2M573.95 200.25l4.2 -4.2M577.32 196.18l4.2 4.2M577.32 200.38l4.2 -4.2M580.69 196.2l4.2 4.2M580.69 200.4l4.2 -4.2M584.06 196.2l4.2 4.2M584.06 200.4l4.2 -4.2M587.43 196.2l4.2 4.2M587.43 200.4l4.2 -4.2M590.8 196.2l4.2 4.2M590.8 200.4l4.2 -4.2M594.17 196.2l4.2 4.2M594.17 200.4l4.2 -4.2" fill="none" stroke="#00ff00" stroke-width="1.0"/>
<path d="M330.04 198.3 L333.41 198.3 L336.78 198.3 L340.15 198.3 L343.52 198.3 L346.89 198.3 L350.26 198.3 L353.63 198.3 L357 198.3 L360.37 198.3 L363.74 198.3 L367.11 198.3 L370.48 198.3 L373.85 198.3 L377.22 198.3 L380.59 198.3 L383.96 198.3 L387.33 198.3 L390.7 198.3 L394.07 198.3 L397.44 198.3 L400.81 198.3 L404.18 198.3 L407.55 198.3 L410.92 198.3 L414.29 198.3 L417.66 198.3 L421.03 198.3 L424.4 198.3 L427.77 198.3 L431.14 198.3 L433.2 198.3 L434.8 146.65 L435.1 19.9 L436.6 198.3 L437.88 198.3 L441.25 198.3 L444.62 198.3 L447.99 198.3 L451.36 198.3 L454.73 198.3 L458.1 198.3 L461.47 198.3 L464.84 198.3 L468.21 198.3 L471.58 198.3 L474.95 198.3 L478.32 198.3 L481.69 198.3 L485.06 198.3 L488.43 198.3 L491.8 198.3 L495.17 198.3 L498.54 198.3 L501.91 198.3 L505.28 198.3 L508.65 198.3 L512.02 198.3 L515.39 198.3 L518.76 198.3 L522.13 198.3 L525.5 198.3 L528.87 198.3 L532.24 198.3 L535.61 198.3 L538.98 198.3 L542.35 198.3 L545.72 198.3 L549.09 198.3 L552.46 198.3 L555.83 198.3 L559.2 198.3 L562.57 198.3 L565.94 198.3 L569.31 198.3 L572.68 198.3 L576.05 198.3 L579.42 198.3 L582.79 198.3 L586.16 198.3 L589.53 198.3 L592.9 198.3 L596.27 198.3" fill="none" stroke="#ff0000" stroke-width="0.9" stroke-linejoin="round"/><path d="M327.44 198.3h5.2M330.04 195.7v5.2M330.81 198.3h5.2M333.41 195.7v5.2M334.18 198.3h5.2M336.78 195.7v5.2M337.55 198.3h5.2M340.15 195.7v5.2M340.92 198.3h5.2M343.52 195.7v5.2M344.29 198.3h5.2M346.89 195.7v5.2M347.66 198.3h5.2M350.26 195.7v5.2M351.03 198.3h5.2M353.63 195.7v5.2M354.4 198.3h5.2M357 195.7v5.2M357.77 198.3h5.2M360.37 195.7v5.2M361.14 198.3h5.2M363.74 195.7v5.2M364.51 198.3h5.2M367.11 195.7v5.2M367.88 198.3h5.2M370.48 195.7v5.2M371.25 198.3h5.2M373.85 195.7v5.2M374.62 198.3h5.2M377.22 195.7v5.2M377.99 198.3h5.2M380.59 195.7v5.2M381.36 198.3h5.2M383.96 195.7v5.2M384.73 198.3h5.2M387.33 195.7v5.2M388.1 198.3h5.2M390.7 195.7v5.2M391.47 198.3h5.2M394.07 195.7v5.2M394.84 198.3h5.2M397.44 195.7v5.2M398.21 198.3h5.2M400.81 195.7v5.2M401.58 198.3h5.2M404.18 195.7v5.2M404.95 198.3h5.2M407.55 195.7v5.2M408.32 198.3h5.2M410.92 195.7v5.2M411.69 198.3h5.2M414.29 195.7v5.2M415.06 198.3h5.2M417.66 195.7v5.2M418.43 198.3h5.2M421.03 195.7v5.2M421.8 198.3h5.2M424.4 195.7v5.2M425.17 198.3h5.2M427.77 195.7v5.2M428.54 198.3h5.2M431.14 195.7v5.2M430.6 198.3h5.2M433.2 195.7v5.2M432.2 146.65h5.2M434.8 144.05v5.2M432.5 19.9h5.2M435.1 17.3v5.2M434 198.3h5.2M436.6 195.7v5.2M435.28 198.3h5.2M437.88 195.7v5.2M438.65 198.3h5.2M441.25 195.7v5.2M442.02 198.3h5.2M444.62 195.7v5.2M445.39 198.3h5.2M447.99 195.7v5.2M448.76 198.3h5.2M451.36 195.7v5.2M452.13 198.3h5.2M454.73 195.7v5.2M455.5 198.3h5.2M458.1 195.7v5.2M458.87 198.3h5.2M461.47 195.7v5.2M462.24 198.3h5.2M464.84 195.7v5.2M465.61 198.3h5.2M468.21 195.7v5.2M468.98 198.3h5.2M471.58 195.7v5.2M472.35 198.3h5.2M474.95 195.7v5.2M475.72 198.3h5.2M478.32 195.7v5.2M479.09 198.3h5.2M481.69 195.7v5.2M482.46 198.3h5.2M485.06 195.7v5.2M485.83 198.3h5.2M488.43 195.7v5.2M489.2 198.3h5.2M491.8 195.7v5.2M492.57 198.3h5.2M495.17 195.7v5.2M495.94 198.3h5.2M498.54 195.7v5.2M499.31 198.3h5.2M501.91 195.7v5.2M502.68 198.3h5.2M505.28 195.7v5.2M506.05 198.3h5.2M508.65 195.7v5.2M509.42 198.3h5.2M512.02 195.7v5.2M512.79 198.3h5.2M515.39 195.7v5.2M516.16 198.3h5.2M518.76 195.7v5.2M519.53 198.3h5.2M522.13 195.7v5.2M522.9 198.3h5.2M525.5 195.7v5.2M526.27 198.3h5.2M528.87 195.7v5.2M529.64 198.3h5.2M532.24 195.7v5.2M533.01 198.3h5.2M535.61 195.7v5.2M536.38 198.3h5.2M538.98 195.7v5.2M539.75 198.3h5.2M542.35 195.7v5.2M543.12 198.3h5.2M545.72 195.7v5.2M546.49 198.3h5.2M549.09 195.7v5.2M549.86 198.3h5.2M552.46 195.7v5.2M553.23 198.3h5.2M555.83 195.7v5.2M556.6 198.3h5.2M559.2 195.7v5.2M559.97 198.3h5.2M562.57 195.7v5.2M563.34 198.3h5.2M565.94 195.7v5.2M566.71 198.3h5.2M569.31 195.7v5.2M570.08 198.3h5.2M572.68 195.7v5.2M573.45 198.3h5.2M576.05 195.7v5.2M576.82 198.3h5.2M579.42 195.7v5.2M580.19 198.3h5.2M582.79 195.7v5.2M583.56 198.3h5.2M586.16 195.7v5.2M586.93 198.3h5.2M589.53 195.7v5.2M590.3 198.3h5.2M592.9 195.7v5.2M593.67 198.3h5.2M596.27 195.7v5.2" fill="none" stroke="#ff0000" stroke-width="1.0"/>
<rect x="37.7" y="195.7" width="271.4" height="5.15" fill="#ff0000"/>
<rect x="326" y="195.7" width="271.6" height="5.15" fill="#ff0000"/>
<path d="M38.7 7.7H308.1V198.3H38.7Z" fill="none" stroke="#000" stroke-width="1.5"/>
<path d="M327 7.7H596.6V198.3H327Z" fill="none" stroke="#000" stroke-width="1.5"/>
<path d="M257 20.6 L292 20.6" fill="none" stroke="#ff00ff" stroke-width="0.9" stroke-linejoin="round"/>
<path d="M272.6 18.7h3.8v3.8h-3.8z" fill="none" stroke="#ff00ff" stroke-width="1.0"/>
<path d="M257 38.4 L292 38.4" fill="none" stroke="#0000ff" stroke-width="0.9" stroke-linejoin="round"/>
<path d="M271.9 38.4h5.2M274.5 35.8v5.2M272.4 36.3l4.2 4.2M272.4 40.5l4.2 -4.2" fill="none" stroke="#0000ff" stroke-width="1.0"/>
<path d="M257 56.2 L292 56.2" fill="none" stroke="#00ff00" stroke-width="0.9" stroke-linejoin="round"/>
<path d="M272.4 54.1l4.2 4.2M272.4 58.3l4.2 -4.2" fill="none" stroke="#00ff00" stroke-width="1.0"/>
<path d="M257 74.1 L292 74.1" fill="none" stroke="#ff0000" stroke-width="0.9" stroke-linejoin="round"/>
<path d="M271.9 74.1h5.2M274.5 71.5v5.2" fill="none" stroke="#ff0000" stroke-width="1.0"/>
<g font-size="14" text-anchor="end">
<text x="246.6" y="26.3">SISCone</text>
<text x="246.6" y="43.9">Cam/Aac</text>
<text x="246.6" y="61.1">k<tspan font-size="11.2" dy="3.7">t</tspan></text>
<text x="246.6" y="79.1">anti-k<tspan font-size="11.2" dy="3.7">t</tspan><tspan dy="-3.7"> (x0.1)</tspan></text>
</g>
<g font-size="14" text-anchor="end">
<text x="33.5" y="202.9">0</text>
<text x="33.5" y="164.78">2</text>
<text x="33.5" y="126.66">4</text>
<text x="33.5" y="88.54">6</text>
<text x="33.5" y="50.42">8</text>
<text x="33.5" y="12.3">10</text>
</g>
<g font-size="14" text-anchor="start">
<text x="600.8" y="202.9">0</text>
<text x="600.8" y="164.78">2</text>
<text x="600.8" y="126.66">4</text>
<text x="600.8" y="88.54">6</text>
<text x="600.8" y="50.42">8</text>
<text x="600.8" y="12.3">10</text>
</g>
<g font-size="14" text-anchor="middle">
<text x="39.9" y="215.5">0</text>
<text x="93.78" y="215.5">0.5</text>
<text x="147.66" y="215.5">1</text>
<text x="201.54" y="215.5">1.5</text>
<text x="255.42" y="215.5">2</text>
<text x="309.3" y="215.5">2.5</text>
<text x="329" y="215.5">0</text>
<text x="382.92" y="215.5">0.5</text>
<text x="436.84" y="215.5">1</text>
<text x="490.76" y="215.5">1.5</text>
<text x="544.68" y="215.5">2</text>
<text x="598.6" y="215.5">2.5</text>
</g>
<text x="52.1" y="23.4" font-size="12.6">(a)</text>
<text x="340.6" y="23.4" font-size="12.6">(b)</text>
<g font-size="12.6">
<text x="210.2" y="122">parton level</text>
<text x="208.8" y="139.5">passive area</text>
<g text-anchor="end">
<text x="583.4" y="122">hadron-level + pileup</text>
<text x="569.6" y="139.6">active area</text>
<text x="583.4" y="23.2">Pythia 6.4</text>
<text x="583.4" y="37.6">p<tspan font-size="10.5" dy="3.4">t,min</tspan><tspan dy="-3.4">=1 TeV</tspan></text>
<text x="583.4" y="55.4">2 hardest jets</text>
<text x="582.3" y="70.2">|y|&lt;2, R=1</text>
</g></g>
<text x="140.6" y="239.6" font-size="14">area/(<tspan textLength="7.69" lengthAdjust="spacingAndGlyphs">π</tspan>R<tspan font-size="11.2" dy="-6.6">2</tspan><tspan dy="6.6">)</tspan></text>
<text x="429.35" y="239.6" font-size="14">area/(<tspan textLength="7.69" lengthAdjust="spacingAndGlyphs">π</tspan>R<tspan font-size="11.2" dy="-6.6">2</tspan><tspan dy="6.6">)</tspan></text>
<text transform="translate(13.9,149.1) rotate(-90)" font-size="14">(<tspan textLength="7.69" lengthAdjust="spacingAndGlyphs">π</tspan> R<tspan font-size="11.2" dy="-6.8">2</tspan><tspan dy="6.8">)/N dN/da</tspan></text>
<text transform="translate(620.5,56.6) rotate(90)" font-size="14">(<tspan textLength="7.69" lengthAdjust="spacingAndGlyphs">π</tspan> R<tspan font-size="11.2" dy="-6.8">2</tspan><tspan dy="6.8">)/N dN/dA</tspan></text>
</svg>
</body></html>
